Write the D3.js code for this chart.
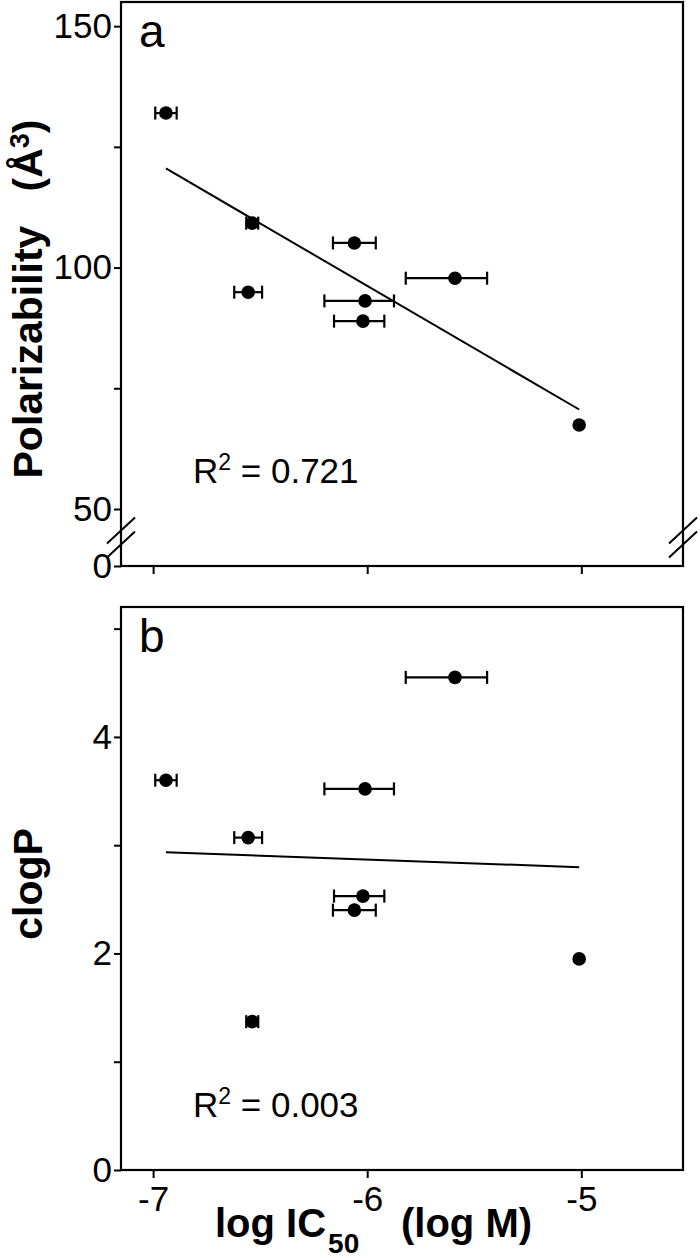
<!DOCTYPE html>
<html lang="en">
<head>
  <meta charset="UTF-8">
  <title>Polarizability and clogP vs log IC50</title>
  <script src="https://d3js.org/d3.v7.min.js"></script>
</head>
<style>
  body { margin: 0; background: #fff; }
  * { font-family: Arial, "Liberation Sans", sans-serif; }
  .tick text { font-size: 35px; fill: #000; }
  .tick line { stroke: #000; stroke-width: 2px; }
  .axislabel { font-weight: 700; font-size: 41px; fill: #000; }
  .xlabel { font-weight: 700; font-size: 40px; fill: #000; }
  .panel-label { font-size: 46px; fill: #000; }
  .r2 { font-size: 35px; fill: #000; }
</style>
<body>
<div id="chart"></div>
<script>
  // ## Data (one entry per compound, same order in every array)
  const logIC50 = [-6.94, -6.537, -6.556, -6.06, -5.59, -6.01, -6.02, -5.01];
  const errLow  = [0.05, 0.028, 0.065, 0.10, 0.23, 0.19, 0.135, 0];
  const errHigh = [0.05, 0.028, 0.065, 0.10, 0.15, 0.135, 0.10, 0];
  const polarizability = [132, 109.2, 94.9, 105.1, 97.8, 93.1, 88.9, 67.4];
  const clogP = [3.60, 1.37, 3.07, 2.40, 4.55, 3.52, 2.53, 1.95];

  const xTicks = [-7, -6, -5];
  const polTicks = [0, 50, 75, 100, 125, 150];
  const polTickLabels = [0, 50, 100, 150];
  const clogPTicks = [0, 1, 2, 3, 4, 5];
  const clogPTickLabels = [0, 2, 4];
  const r2Labels = ["0.721", "0.003"];

  function drawChart() {
    const dimensions = {
      width: 700,
      height: 1258,
      left: 121,
      right: 683
    };

    const svg = d3.select("#chart")
      .append("svg")
        .attr("width", dimensions.width)
        .attr("height", dimensions.height);

    const xScale = d3.scaleLinear()
      .domain([-7.15, -4.525])
      .range([dimensions.left, dimensions.right]);

    // panel a has a broken axis: 0..50 squeezed at the bottom
    const yPol = d3.scaleLinear()
      .domain([0, 50, 155])
      .range([566, 509, 2]);

    const yClogP = d3.scaleLinear()
      .domain([0, 5.2])
      .range([1170, 607]);

    const points = logIC50.map((x, i) => ({
      x, lo: errLow[i], hi: errHigh[i],
      pol: polarizability[i], clogP: clogP[i]
    }));

    // ## Panels
    drawPanel({
      yScale: yPol,
      yAccessor: d => d.pol,
      yTicks: polTicks,
      yTickLabels: polTickLabels,
      xLabels: false,
      letter: "a",
      r2: r2Labels[0],
      r2Y: 483,
      breakAxis: true
    });

    drawPanel({
      yScale: yClogP,
      yAccessor: d => d.clogP,
      yTicks: clogPTicks,
      yTickLabels: clogPTickLabels,
      xLabels: true,
      letter: "b",
      r2: r2Labels[1],
      r2Y: 1117,
      breakAxis: false
    });

    // ## Axis titles
    const polTitle = svg.append("text")
      .attr("class", "axislabel")
      .attr("transform", "translate(42, 299) rotate(-90)")
      .attr("text-anchor", "middle");
    polTitle.append("tspan").text("Polarizability\u00a0\u00a0\u00a0(Å");
    polTitle.append("tspan").attr("dy", -13).style("font-size", "27px").text("3");
    polTitle.append("tspan").attr("dy", 13).text(")");

    svg.append("text")
      .attr("class", "axislabel")
      .attr("transform", "translate(42, 884) rotate(-90)")
      .attr("text-anchor", "middle")
      .text("clogP");

    // x title: three pieces so the -6 tick label sits in the gap
    const xMain = svg.append("text")
      .attr("class", "xlabel")
      .attr("x", 215)
      .attr("y", 1237)
      .text("log IC");
    svg.append("text")
      .attr("class", "xlabel")
      .attr("x", 215 + xMain.node().getComputedTextLength() + 2)
      .attr("y", 1253)
      .style("font-size", "28px")
      .text("50");
    svg.append("text")
      .attr("class", "xlabel")
      .attr("x", 401)
      .attr("y", 1237)
      .text("(log M)");

    function drawPanel(cfg) {
      const range = cfg.yScale.range();
      const yBottom = range[0];
      const yTop = range[range.length - 1];

      const g = svg.append("g");

      // frame
      g.append("rect")
        .attr("x", dimensions.left)
        .attr("y", yTop)
        .attr("width", dimensions.right - dimensions.left)
        .attr("height", yBottom - yTop)
        .attr("fill", "none")
        .attr("stroke", "#000")
        .attr("stroke-width", 2.2);

      // y axis
      g.append("g")
        .attr("transform", `translate(${dimensions.left},0)`)
        .call(d3.axisLeft(cfg.yScale)
          .tickValues(cfg.yTicks)
          .tickSize(7)
          .tickPadding(2)
          .tickFormat(d => cfg.yTickLabels.includes(d) ? d : ""))
        .call(a => a.select(".domain").remove())
        .call(a => a.selectAll(".tick text").attr("font-family", null).attr("font-size", null));

      // x axis
      g.append("g")
        .attr("transform", `translate(0,${yBottom})`)
        .call(d3.axisBottom(xScale)
          .tickValues(xTicks)
          .tickSize(8)
          .tickPadding(8)
          .tickFormat(d => cfg.xLabels ? String(d) : ""))
        .call(a => a.select(".domain").remove())
        .call(a => a.selectAll(".tick text").attr("font-family", null).attr("font-size", null));

      // axis break marks
      if (cfg.breakAxis) {
        const yb = cfg.yScale(25);
        [dimensions.left, dimensions.right].forEach(xb => {
          [-7, 7].forEach(off => {
            g.append("line")
              .attr("x1", xb - 14).attr("y1", yb + off + 13)
              .attr("x2", xb + 14).attr("y2", yb + off - 13)
              .attr("stroke", "#000")
              .attr("stroke-width", 2);
          });
        });
      }

      // regression line (least squares over the points)
      const mx = d3.mean(points, d => d.x);
      const my = d3.mean(points, cfg.yAccessor);
      const sxy = d3.sum(points, d => (d.x - mx) * (cfg.yAccessor(d) - my));
      const sxx = d3.sum(points, d => (d.x - mx) ** 2);
      const slope = sxy / sxx;
      const fit = x => my + slope * (x - mx);
      const [x0, x1] = d3.extent(points, d => d.x);

      g.append("line")
        .attr("x1", xScale(x0)).attr("y1", cfg.yScale(fit(x0)))
        .attr("x2", xScale(x1)).attr("y2", cfg.yScale(fit(x1)))
        .attr("stroke", "#000")
        .attr("stroke-width", 2);

      // error bars
      const bars = g.selectAll(".err")
        .data(points.filter(d => d.lo > 0 || d.hi > 0))
        .join("g")
          .attr("class", "err")
          .attr("stroke", "#000")
          .attr("stroke-width", 2.2);

      bars.append("line")
        .attr("x1", d => xScale(d.x - d.lo))
        .attr("x2", d => xScale(d.x + d.hi))
        .attr("y1", d => cfg.yScale(cfg.yAccessor(d)))
        .attr("y2", d => cfg.yScale(cfg.yAccessor(d)));

      [d => d.x - d.lo, d => d.x + d.hi].forEach(end => {
        bars.append("line")
          .attr("x1", d => xScale(end(d)))
          .attr("x2", d => xScale(end(d)))
          .attr("y1", d => cfg.yScale(cfg.yAccessor(d)) - 6.5)
          .attr("y2", d => cfg.yScale(cfg.yAccessor(d)) + 6.5);
      });

      // points
      g.selectAll(".dot")
        .data(points)
        .join("circle")
          .attr("class", "dot")
          .attr("cx", d => xScale(d.x))
          .attr("cy", d => cfg.yScale(cfg.yAccessor(d)))
          .attr("r", 6.8)
          .attr("fill", "#000");

      // annotations
      g.append("text")
        .attr("class", "panel-label")
        .attr("x", 139)
        .attr("y", yTop + 45)
        .text(cfg.letter);

      const r2 = g.append("text")
        .attr("class", "r2")
        .attr("x", 193)
        .attr("y", cfg.r2Y);
      r2.append("tspan").text("R");
      r2.append("tspan").attr("dy", -13).style("font-size", "23px").text("2");
      r2.append("tspan").attr("dy", 13).text(" = " + cfg.r2);
    }
  }

  drawChart();
</script>
</body>
</html>
